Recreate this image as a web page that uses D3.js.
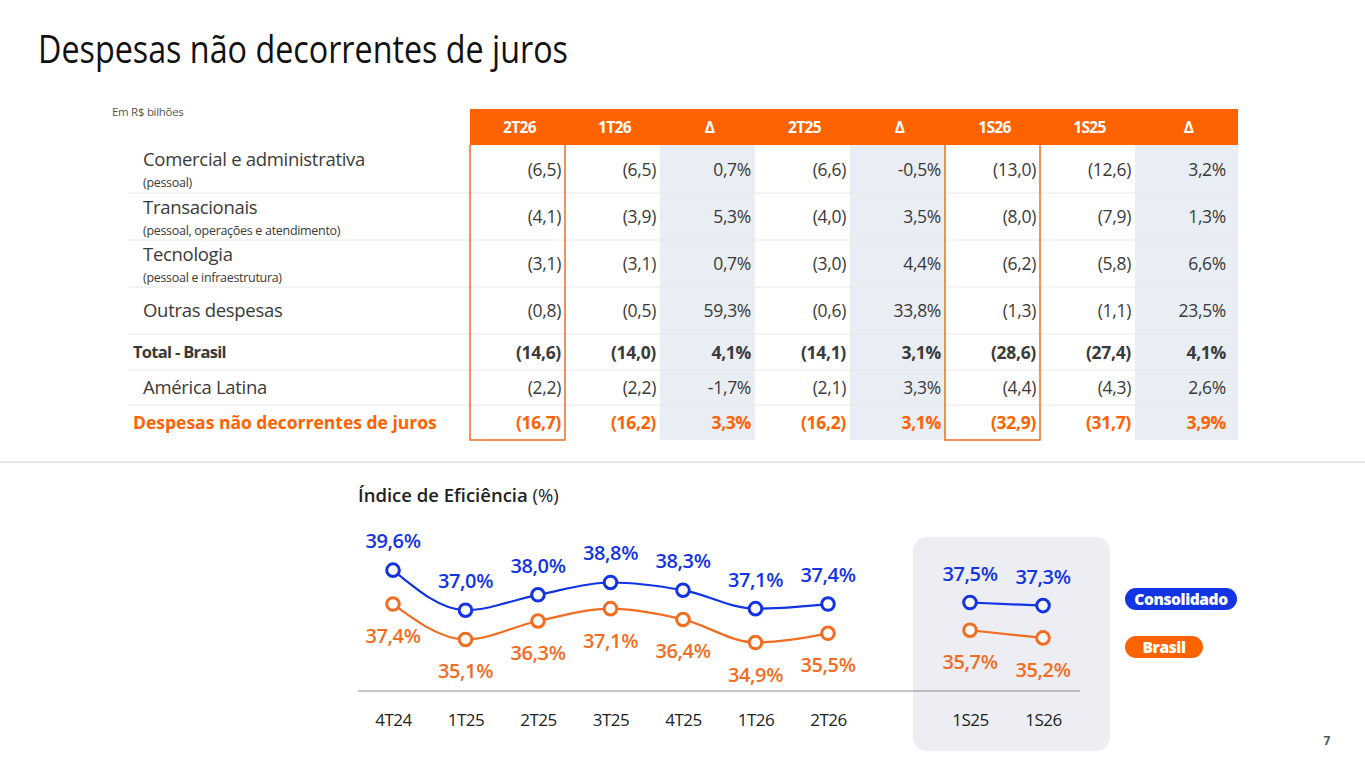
<!DOCTYPE html>
<html>
<head>
<meta charset="utf-8">
<script src="https://cdn.jsdelivr.net/npm/d3@7"></script>
<style>
  html, body { margin: 0; padding: 0; background: #fff; }
  svg { display: block; font-family: 'Open Sans', 'Noto Sans', sans-serif; }
</style>
</head>
<body>
<svg id="slide" width="1365" height="768"></svg>
<script>
// tabela
const columns = ['2T26', '1T26', 'Δ', '2T25', 'Δ', '1S26', '1S25', 'Δ']
const rowLabels = ['Comercial e administrativa', 'Transacionais', 'Tecnologia', 'Outras despesas', 'Total - Brasil', 'América Latina', 'Despesas não decorrentes de juros']
const rowNotes = ['(pessoal)', '(pessoal, operações e atendimento)', '(pessoal e infraestrutura)', '', '', '', '']
const tableValues = [
  ['(6,5)', '(6,5)', '0,7%', '(6,6)', '-0,5%', '(13,0)', '(12,6)', '3,2%'],
  ['(4,1)', '(3,9)', '5,3%', '(4,0)', '3,5%', '(8,0)', '(7,9)', '1,3%'],
  ['(3,1)', '(3,1)', '0,7%', '(3,0)', '4,4%', '(6,2)', '(5,8)', '6,6%'],
  ['(0,8)', '(0,5)', '59,3%', '(0,6)', '33,8%', '(1,3)', '(1,1)', '23,5%'],
  ['(14,6)', '(14,0)', '4,1%', '(14,1)', '3,1%', '(28,6)', '(27,4)', '4,1%'],
  ['(2,2)', '(2,2)', '-1,7%', '(2,1)', '3,3%', '(4,4)', '(4,3)', '2,6%'],
  ['(16,7)', '(16,2)', '3,3%', '(16,2)', '3,1%', '(32,9)', '(31,7)', '3,9%']
]

// índice de eficiência
const quarters = ['4T24', '1T25', '2T25', '3T25', '4T25', '1T26', '2T26']
const consolidadoQ = [39.6, 37.0, 38.0, 38.8, 38.3, 37.1, 37.4]
const brasilQ = [37.4, 35.1, 36.3, 37.1, 36.4, 34.9, 35.5]
const semesters = ['1S25', '1S26']
const consolidadoS = [37.5, 37.3]
const brasilS = [35.7, 35.2]

const ORANGE = '#ff6200'
const LINE_ORANGE = '#f26d21'
const BLUE = '#1234e2'
const TEXT = '#3a3a3a'
const GREY_COL = '#e9edf4'

const svg = d3.select('#slide')
const fmt = v => d3.format('.1f')(v).replace('.', ',') + '%'

// titulo
svg.append('text')
  .attr('x', 38).attr('y', 63)
  .attr('textLength', 530).attr('lengthAdjust', 'spacingAndGlyphs')
  .style('font-size', '38px').style('fill', '#111')
  .text('Despesas não decorrentes de juros')

svg.append('text')
  .attr('x', 112).attr('y', 116)
  .style('font-size', '11.5px').style('fill', '#555').style('letter-spacing', '-0.3px')
  .text('Em R$ bilhões')

// ---- tabela ----
const rowHeights = [48, 47, 47, 47, 36, 35, 35]
const tableTop = 145
const tableLeft = 470
const tableRight = 1238
const rowTops = rowHeights.reduce((acc, h, i) => { acc.push(i ? acc[i - 1] + rowHeights[i - 1] : tableTop); return acc }, [])
const tableBottom = tableTop + d3.sum(rowHeights)

// a última coluna se estende até a borda da tabela
const colX = d3.scaleBand().domain(d3.range(columns.length)).range([tableLeft, 1230])
const colW = i => i === columns.length - 1 ? tableRight - colX(i) : colX.bandwidth()

// fundo cinza das colunas Δ
columns.forEach((c, i) => {
  if (c === 'Δ') {
    svg.append('rect')
      .attr('x', colX(i)).attr('y', tableTop)
      .attr('width', colW(i)).attr('height', tableBottom - tableTop)
      .style('fill', GREY_COL)
  }
})

// linhas separadoras
rowTops.slice(1).forEach(y => {
  svg.append('line')
    .attr('x1', 128).attr('x2', tableRight).attr('y1', y).attr('y2', y)
    .style('stroke', '#e8e8e8').style('stroke-width', 1)
})

// cabeçalho
svg.append('rect')
  .attr('x', tableLeft).attr('y', 109).attr('width', tableRight - tableLeft).attr('height', tableTop - 109)
  .style('fill', ORANGE)
svg.selectAll('.col-head').data(columns).enter().append('text')
  .attr('class', 'col-head')
  .attr('x', (d, i) => colX(i) + colW(i) / 2 + 2)
  .attr('y', 133)
  .attr('text-anchor', 'middle')
  .style('fill', '#fff').style('font-size', '15.5px').style('font-weight', 700)
  .style('letter-spacing', '-0.6px')
  .text(d => d)

// molduras laranja (2T26 e 1S26)
;[0, 5].forEach(i => {
  const x0 = colX(i), x1 = colX(i) + colX.bandwidth()
  svg.append('path')
    .attr('d', `M${x0},${tableTop}V${tableBottom}H${x1}V${tableTop}`)
    .style('fill', 'none').style('stroke', LINE_ORANGE).style('stroke-width', 1.5)
})

// rótulos e valores
rowLabels.forEach((label, r) => {
  const top = rowTops[r]
  const mid = top + rowHeights[r] / 2
  const isTotal = r === 4
  const isFinal = r === 6
  const color = isFinal ? ORANGE : TEXT
  const weight = (isTotal || isFinal) ? 700 : 400
  const hasNote = rowNotes[r] !== ''
  const lx = (isTotal || isFinal) ? 133 : 143

  svg.append('text')
    .attr('x', lx).attr('y', hasNote ? top + 21 : mid + 6)
    .style('font-size', isFinal ? '17.5px' : isTotal ? '16.5px' : '18.5px')
    .style('font-weight', weight).style('fill', color)
    .style('letter-spacing', isFinal ? '0px' : isTotal ? '-0.7px' : '-0.3px')
    .text(label)
  if (hasNote) {
    svg.append('text')
      .attr('x', 143).attr('y', top + 42)
      .style('font-size', '12.5px').style('fill', TEXT).style('letter-spacing', '-0.3px')
      .text(rowNotes[r])
  }
  tableValues[r].forEach((v, c) => {
    svg.append('text')
      .attr('x', colX(c) + colX.bandwidth() - 4)
      .attr('y', mid + 6.5)
      .attr('text-anchor', 'end')
      .style('font-size', '17.5px').style('font-weight', weight).style('fill', color)
      .style('letter-spacing', '-0.3px')
      .text(v)
  })
})

// separador horizontal
svg.append('line')
  .attr('x1', 0).attr('x2', 1365).attr('y1', 462).attr('y2', 462)
  .style('stroke', '#cfcfcf').style('stroke-width', 1)

// ---- índice de eficiência ----
const chartTitle = svg.append('text').attr('x', 358).attr('y', 502)
  .style('font-size', '18.5px').style('fill', '#222')
chartTitle.append('tspan').style('font-weight', 600).text('Índice de Eficiência ')
chartTitle.append('tspan').style('font-weight', 400).text('(%)')

// caixa dos semestres
svg.append('rect')
  .attr('x', 913).attr('y', 537).attr('width', 197).attr('height', 214)
  .attr('rx', 14)
  .style('fill', '#eceef3')

const xQ = d3.scalePoint().domain(quarters).range([393, 828])
const xS = d3.scalePoint().domain(semesters).range([970, 1043])
const y = d3.scaleLinear().domain([34, 40]).range([656.4, 564])

svg.append('line')
  .attr('x1', 358).attr('x2', 1080).attr('y1', 691).attr('y2', 691)
  .style('stroke', '#8a8a8a').style('stroke-width', 1)

const axisQ = d3.axisBottom(xQ).tickSize(0).tickPadding(0)
const axisS = d3.axisBottom(xS).tickSize(0).tickPadding(0)
;[axisQ, axisS].forEach(ax => {
  const g = svg.append('g').attr('transform', 'translate(0,726)').call(ax)
  g.select('.domain').remove()
  g.selectAll('text')
    .attr('dy', 0)
    .style('font-family', "'Open Sans', sans-serif")
    .style('font-size', '17px').style('fill', '#222').style('letter-spacing', '-0.5px')
})

function drawSeries (labels, xs, values, color, curve, above) {
  const pts = values.map((v, i) => ({ x: xs(labels[i]), y: y(v), v }))
  const line = d3.line().x(d => d.x).y(d => d.y).curve(curve)
  svg.append('path')
    .datum(pts)
    .attr('d', line)
    .style('fill', 'none').style('stroke', color).style('stroke-width', 2.2)
  svg.selectAll(null).data(pts).enter().append('circle')
    .attr('cx', d => d.x).attr('cy', d => d.y).attr('r', 6.3)
    .style('fill', '#fff').style('stroke', color).style('stroke-width', 3)
  svg.selectAll(null).data(pts).enter().append('text')
    .attr('x', d => d.x)
    .attr('y', d => above ? d.y - 22 : d.y + 39)
    .attr('text-anchor', 'middle')
    .style('font-size', '20px').style('font-weight', 600).style('fill', color)
    .style('letter-spacing', '-0.4px')
    .text(d => fmt(d.v))
}

drawSeries(quarters, xQ, consolidadoQ, BLUE, d3.curveMonotoneX, true)
drawSeries(quarters, xQ, brasilQ, LINE_ORANGE, d3.curveMonotoneX, false)
drawSeries(semesters, xS, consolidadoS, BLUE, d3.curveLinear, true)
drawSeries(semesters, xS, brasilS, LINE_ORANGE, d3.curveLinear, false)

// legenda
const legend = [
  { name: 'Consolidado', color: BLUE, y: 588, w: 112 },
  { name: 'Brasil', color: ORANGE, y: 636, w: 78 }
]
legend.forEach(l => {
  svg.append('rect')
    .attr('x', 1125).attr('y', l.y).attr('width', l.w).attr('height', 22).attr('rx', 11)
    .style('fill', l.color)
  svg.append('text')
    .attr('x', 1125 + l.w / 2).attr('y', l.y + 16.5)
    .attr('text-anchor', 'middle')
    .style('font-size', '15.5px').style('font-weight', 800).style('fill', '#fff')
    .style('letter-spacing', '-0.4px')
    .text(l.name)
})

// número da página
svg.append('text')
  .attr('x', 1327).attr('y', 745)
  .attr('text-anchor', 'middle')
  .style('font-size', '12px').style('font-weight', 700).style('fill', '#555')
  .text('7')
</script>
</body>
</html>
